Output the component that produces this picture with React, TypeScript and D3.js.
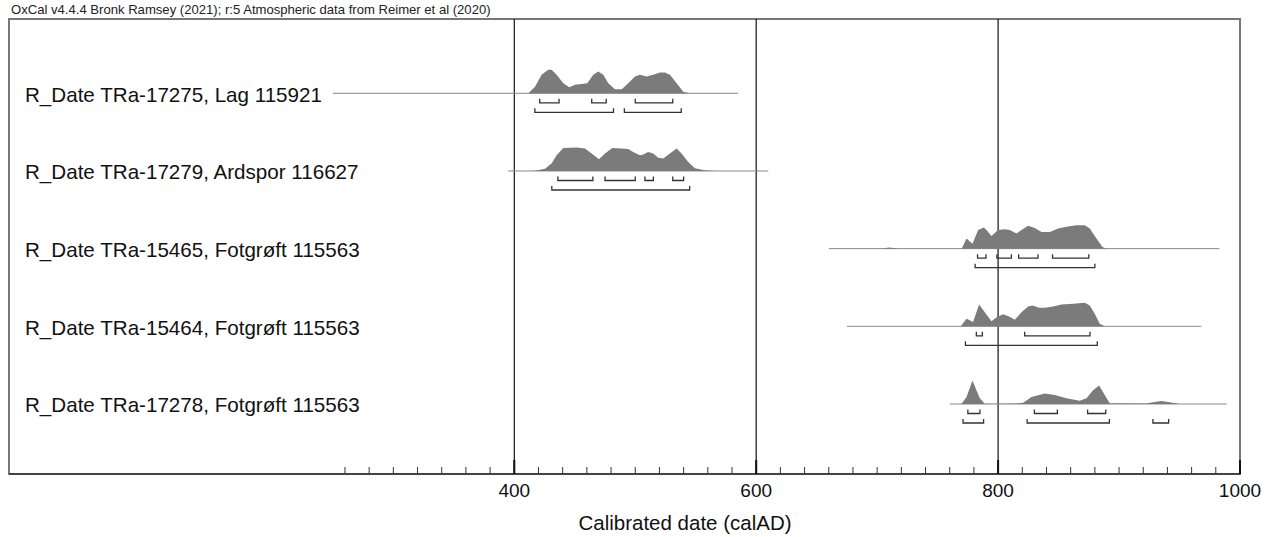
import React from "react";
import * as d3 from "d3";

const title = "OxCal v4.4.4 Bronk Ramsey (2021); r:5 Atmospheric data from Reimer et al (2020)";
const axisTitle = "Calibrated date (calAD)";
const labels = [
  "R_Date TRa-17275, Lag 115921",
  "R_Date TRa-17279, Ardspor 116627",
  "R_Date TRa-15465, Fotgrøft 115563",
  "R_Date TRa-15464, Fotgrøft 115563",
  "R_Date TRa-17278, Fotgrøft 115563",
];
const lineStart = [250, 395, 660, 675, 760];
const lineEnd = [585, 610, 983, 968, 989];

const years1 = [411.6, 417.1, 422.6, 428.1, 430.9, 435.0, 440.5, 445.5, 450.2, 455.7, 460.3, 465.3, 469.4, 473.6, 477.7, 483.2, 488.8, 494.2, 499.8, 503.9, 509.4, 514.9, 520.4, 524.5, 528.7, 534.2, 539.7, 545.0];
const prob1 = [0, 0.28, 0.79, 1.0, 1.0, 0.79, 0.43, 0.26, 0.36, 0.40, 0.43, 0.79, 0.93, 0.79, 0.43, 0.17, 0.17, 0.43, 0.71, 0.79, 0.71, 0.79, 0.88, 0.88, 0.79, 0.43, 0.07, 0];

const years2 = [410, 417.1, 425.4, 430.9, 435.0, 440.5, 451.6, 458.4, 464.0, 470.0, 475.0, 481.0, 488.8, 494.2, 498.3, 503.9, 506.6, 510.7, 514.9, 519.0, 523.1, 528.7, 534.2, 538.3, 543.8, 549.3, 557.6, 565.9];
const prob2 = [0, 0.01, 0.10, 0.33, 0.67, 0.98, 1.0, 0.96, 0.74, 0.50, 0.74, 0.98, 0.96, 0.93, 0.81, 0.67, 0.70, 0.81, 0.74, 0.56, 0.53, 0.74, 0.96, 0.74, 0.38, 0.12, 0.03, 0];

const years3 = [703, 710, 718, 769.8, 773.9, 778.8, 783.5, 788.2, 790.4, 794.5, 800, 805.5, 809.7, 815.2, 819.3, 824.8, 830.3, 835.9, 842.7, 849.6, 856.5, 864.8, 871.7, 875.8, 881.3, 886.3, 889.6];
const prob3 = [0, 0.05, 0, 0, 0.43, 0.21, 0.79, 0.90, 0.79, 0.54, 0.79, 0.83, 0.79, 0.64, 0.79, 0.97, 0.88, 0.71, 0.71, 0.86, 0.93, 1.0, 1.0, 0.86, 0.43, 0.07, 0];

const years4 = [769.2, 773.9, 779.3, 784.3, 789.0, 794.5, 798.7, 804.1, 809.1, 813.8, 819.3, 824.8, 828.4, 833.9, 838.6, 845.5, 852.4, 862.0, 871.7, 875.8, 879.9, 884.0, 888.2];
const prob4 = [0, 0.32, 0.18, 0.93, 0.60, 0.22, 0.39, 0.51, 0.42, 0.28, 0.60, 0.84, 0.89, 0.79, 0.79, 0.84, 0.93, 0.96, 1.0, 0.89, 0.54, 0.11, 0];

const years5 = [766, 769.8, 773.9, 778.8, 782.1, 784.9, 789.0, 800, 815, 820.7, 827.6, 838.6, 846.9, 856.5, 867.5, 873.1, 878.5, 883.5, 888.2, 892.3, 922.6, 928.1, 935.0, 941.9, 950.1];
const prob5 = [0, 0.01, 0.30, 1.0, 0.58, 0.24, 0.01, 0.01, 0.02, 0.05, 0.30, 0.45, 0.38, 0.24, 0.14, 0.24, 0.58, 0.79, 0.38, 0.03, 0.02, 0.07, 0.125, 0.07, 0];

const hpd68 = [
  [[421, 437], [464, 476], [500, 531]],
  [[436, 465], [475, 500], [508, 515], [531, 540]],
  [[783, 790], [799, 811], [817, 833], [845, 875]],
  [[782, 787], [822, 876]],
  [[775, 785], [830, 849], [874, 889]],
];
const hpd95 = [
  [[417, 482], [491, 538]],
  [[431, 545]],
  [[781, 880]],
  [[773, 882]],
  [[771, 788], [824, 892], [928, 941]],
];

const majorTicks = [400, 600, 800, 1000];
const gridYears = [400, 600, 800];
const minorTicks = d3.range(260, 1001, 20);

const W = 1274, H = 537;
const frame = { left: 9, right: 1240, top: 19, bottom: 474 };
const FONT = "'Liberation Sans', Arial, Helvetica, sans-serif";

export default function App() {
  const x = d3.scaleLinear().domain([400, 1000]).range([514.3, 1240]);
  const y = d3.scalePoint<string>().domain(labels).range([93.3, 404]);
  const h = d3.scaleLinear().domain([0, 1]).range([0, 23.5]);
  const yearsList = [years1, years2, years3, years4, years5];
  const probList = [prob1, prob2, prob3, prob4, prob5];

  const bracket = (a: number, b: number, yy: number) =>
    `M${x(a)},${yy - 4}V${yy}H${x(b)}V${yy - 4}`;

  return (
    <svg width={W} height={H} style={{ position: "absolute", left: 0, top: 0, background: "#fff" }} fontFamily={FONT}>
      <rect x={0} y={0} width={W} height={H} fill="#fff" />
      <text x={11} y={13.5} fontSize={13.1} fill="#222">{title}</text>
      <rect x={frame.left} y={frame.top} width={frame.right - frame.left} height={frame.bottom - frame.top}
        fill="none" stroke="#777" strokeWidth={2} />
      {gridYears.map((g) => (
        <line key={g} x1={x(g)} x2={x(g)} y1={frame.top} y2={frame.bottom} stroke="#111" strokeWidth={1.2} />
      ))}
      {labels.map((lab, i) => {
        const base = y(lab)!;
        const pts = yearsList[i].map((yr, k) => ({ yr, p: probList[i][k] }));
        const area = d3.area<{ yr: number; p: number }>()
          .x((d) => x(d.yr))
          .y0(base)
          .y1((d) => base - h(d.p));
        return (
          <g key={lab}>
            <text x={25} y={base + 8.3} fontSize={20.6} fill="#111">{lab}</text>
            <line x1={x(lineStart[i])} x2={x(lineEnd[i])} y1={base} y2={base} stroke="#888" strokeWidth={1} />
            <path d={area(pts)!} fill="#7b7b7b" stroke="none" />
            {hpd68[i].map(([a, b], k) => (
              <path key={"a" + k} d={bracket(a, b, base + 9.5)} fill="none" stroke="#333" strokeWidth={1.3} />
            ))}
            {hpd95[i].map(([a, b], k) => (
              <path key={"b" + k} d={bracket(a, b, base + 19)} fill="none" stroke="#333" strokeWidth={1.3} />
            ))}
          </g>
        );
      })}
      <line x1={frame.left} x2={frame.right} y1={frame.bottom} y2={frame.bottom} stroke="#333" strokeWidth={1.5} />
      {minorTicks.map((t) => (
        <line key={t} x1={x(t)} x2={x(t)} y1={frame.bottom} y2={frame.bottom - 7} stroke="#333" strokeWidth={1} />
      ))}
      {majorTicks.map((t) => (
        <g key={t}>
          <line x1={x(t)} x2={x(t)} y1={frame.bottom} y2={frame.bottom - 14} stroke="#111" strokeWidth={2} />
          <text x={x(t)} y={497} fontSize={19} textAnchor="middle" fill="#111">{t}</text>
        </g>
      ))}
      <text x={685} y={530} fontSize={20.5} textAnchor="middle" fill="#111">{axisTitle}</text>
    </svg>
  );
}
